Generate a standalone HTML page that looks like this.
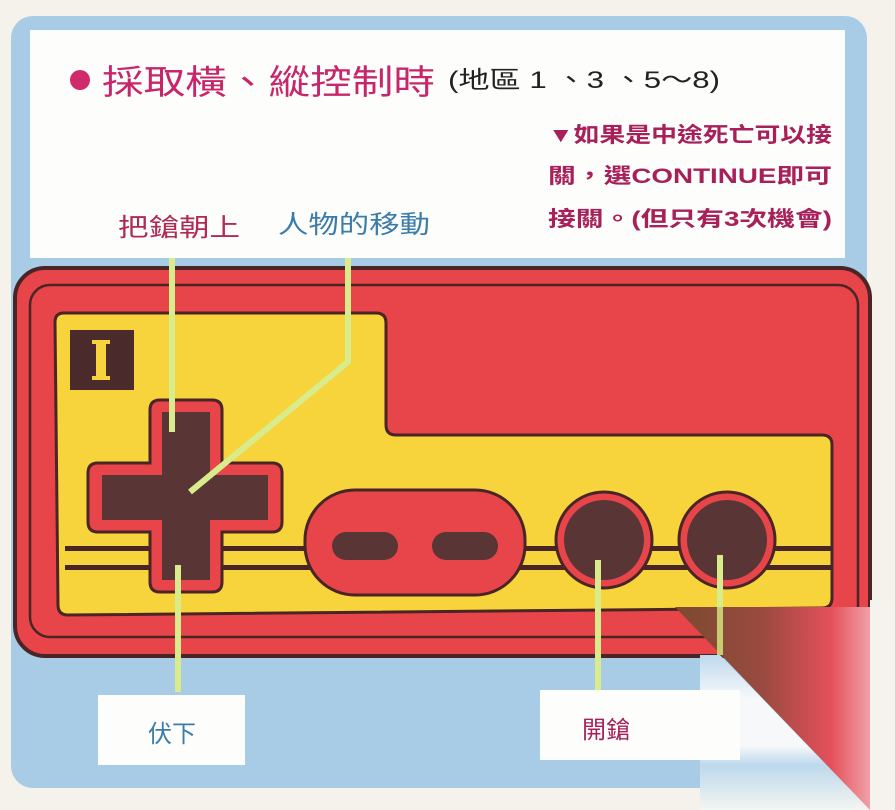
<!DOCTYPE html>
<html><head><meta charset="utf-8"><style>
html,body{margin:0;padding:0;background:#f4f2ea;}
svg{display:block}
text{font-family:"Liberation Sans","Noto Sans CJK TC",sans-serif;}
</style></head><body>
<svg width="895" height="810" viewBox="0 0 895 810" xmlns="http://www.w3.org/2000/svg">
<defs>
<linearGradient id="rg" x1="675" x2="870" y1="0" y2="0" gradientUnits="userSpaceOnUse">
<stop offset="0" stop-color="#7a4a30"/><stop offset="0.45" stop-color="#9a4a40"/><stop offset="0.8" stop-color="#e4505a"/><stop offset="1" stop-color="#f0a0a8"/>
</linearGradient>
<linearGradient id="bw" x1="0" x2="0" y1="650" y2="810" gradientUnits="userSpaceOnUse">
<stop offset="0" stop-color="#b8d6ec"/><stop offset="0.3" stop-color="#f6f8fa"/><stop offset="0.6" stop-color="#f6f8fa"/><stop offset="0.72" stop-color="#bcd8ec"/><stop offset="1" stop-color="#f4f6f2"/>
</linearGradient>
</defs>
<rect x="0" y="0" width="895" height="810" fill="#f4f2ea"/>
<rect x="11" y="16" width="856" height="772" rx="22" fill="#a8cbe6"/>
<rect x="30" y="30" width="815" height="228" fill="#fdfdfb"/>
<circle cx="80" cy="80" r="10" fill="#d02a6a"/>
<text x="102" y="94" font-size="34" fill="#c8266a" textLength="333" lengthAdjust="spacingAndGlyphs">採取橫、縱控制時</text>
<text x="448" y="88" font-size="24" fill="#222" textLength="272" lengthAdjust="spacingAndGlyphs">(地區 1 、3 、5～8)</text>
<text x="548" y="142" font-size="21" fill="#a8205a" font-weight="bold" textLength="284" lengthAdjust="spacingAndGlyphs">▼如果是中途死亡可以接</text>
<text x="548" y="183" font-size="21" fill="#a8205a" font-weight="bold" textLength="284" lengthAdjust="spacingAndGlyphs">關，選CONTINUE即可</text>
<text x="548" y="226" font-size="21" fill="#a8205a" font-weight="bold" textLength="284" lengthAdjust="spacingAndGlyphs">接關。(但只有3次機會)</text>
<text x="118" y="236" font-size="25" fill="#b02a55" textLength="122" lengthAdjust="spacingAndGlyphs">把鎗朝上</text>
<text x="278" y="233" font-size="25" fill="#3a7caa" textLength="152" lengthAdjust="spacingAndGlyphs">人物的移動</text>
<rect x="15" y="268" width="855" height="388" rx="30" fill="#e8454a" stroke="#4a2525" stroke-width="4"/>
<rect x="30" y="285" width="828" height="352" rx="20" fill="none" stroke="#4a2525" stroke-width="2.5"/>
<path d="M55 322 Q55 313 64 313 L376 313 Q386 313 386 323 L386 425 Q386 435 396 435 L822 435 Q832 435 832 445 L832 598 Q832 608 822 608 L68 615 Q58 615 58 605 Z" fill="#f7d33c" stroke="#4a2525" stroke-width="3"/>
<rect x="70" y="330" width="64" height="60" fill="#4a2a2a"/>
<rect x="96" y="340" width="10" height="40" fill="#f7d33c"/>
<rect x="92" y="340" width="18" height="4" fill="#f7d33c"/>
<rect x="92" y="376" width="18" height="4" fill="#f7d33c"/>
<rect x="65" y="546" width="768" height="5" fill="#4a2525"/>
<rect x="65" y="565" width="768" height="5" fill="#4a2525"/>
<path d="M150 410 Q150 400 160 400 L212 400 Q222 400 222 410 L222 463 L272 463 Q282 463 282 473 L282 522 Q282 532 272 532 L222 532 L222 582 Q222 592 212 592 L160 592 Q150 592 150 582 L150 532 L98 532 Q88 532 88 522 L88 473 Q88 463 98 463 L150 463 Z" fill="#e8454a" stroke="#4a2525" stroke-width="3"/>
<path d="M162 412 L210 412 L210 475 L268 475 L268 520 L210 520 L210 580 L162 580 L162 520 L102 520 L102 475 L162 475 Z" fill="#5a3535"/>
<rect x="305" y="490" width="220" height="105" rx="50" fill="#e8454a" stroke="#4a2525" stroke-width="3"/>
<rect x="332" y="532" width="66" height="28" rx="14" fill="#5a3535"/>
<rect x="432" y="532" width="66" height="28" rx="14" fill="#5a3535"/>
<circle cx="604" cy="540" r="48" fill="#e8454a" stroke="#4a2525" stroke-width="3"/>
<circle cx="604" cy="540" r="40" fill="#5a3535"/>
<circle cx="727" cy="540" r="48" fill="#e8454a" stroke="#4a2525" stroke-width="3"/>
<circle cx="727" cy="540" r="40" fill="#5a3535"/>
<g stroke="#d9ec8c" stroke-width="6" fill="none">
<line x1="172" y1="258" x2="172" y2="432"/>
<polyline points="348,258 348,362 190,492"/>
<line x1="178" y1="565" x2="178" y2="692"/>
<line x1="598" y1="560" x2="598" y2="690"/>
<line x1="720" y1="555" x2="720" y2="608"/>
</g>
<rect x="98" y="695" width="147" height="70" fill="#fdfdfb"/>
<text x="148" y="742" font-size="24" fill="#3a7caa">伏下</text>
<polygon points="700,655 720,655 870,810 700,810" fill="url(#bw)"/>
<rect x="540" y="690" width="200" height="70" fill="#fdfdfb"/>
<text x="582" y="738" font-size="24" fill="#a8205a">開鎗</text>
<polygon points="675,607 870,607 870,810" fill="url(#rg)"/>
<line x1="720" y1="607" x2="720" y2="655" stroke="#c8cc70" stroke-width="6"/>
<rect x="870" y="600" width="25" height="210" fill="#f6f2ee"/>
</svg>
</body></html>
